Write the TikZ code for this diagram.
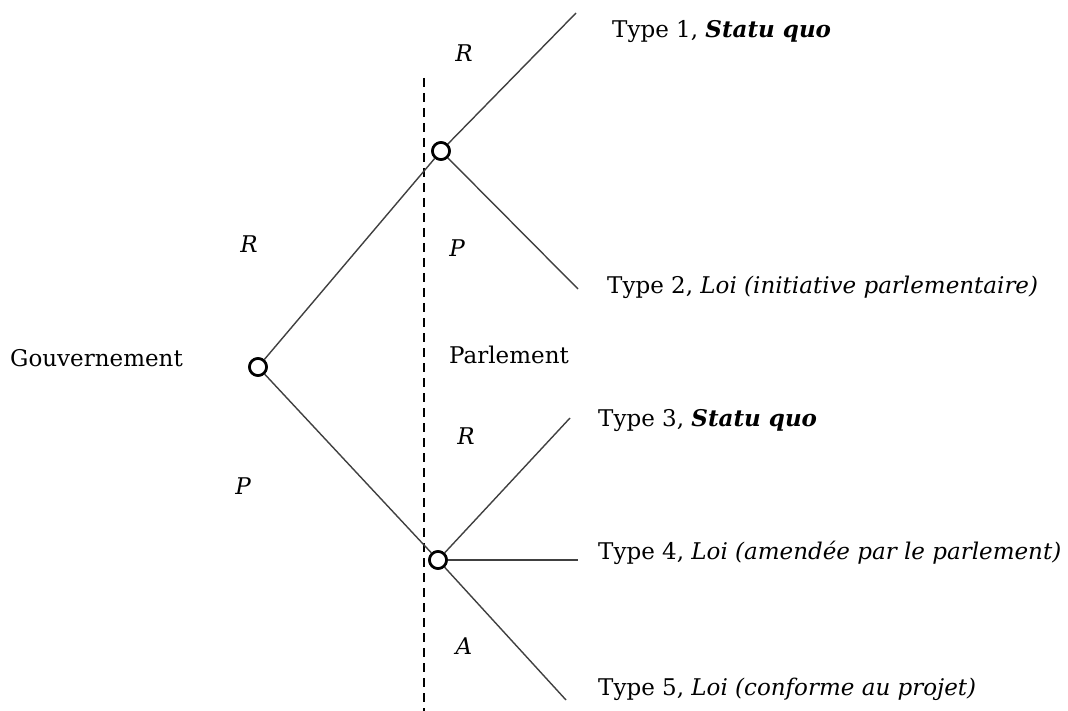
\documentclass[tikz,border=0pt]{standalone}
\usepackage{fontspec}
\setmainfont{DejaVu Serif}
\begin{document}
\begin{tikzpicture}[x=1pt,y=-1pt,
  every node/.style={font=\fontsize{23}{26}\selectfont, inner sep=0pt},
  dec/.style={circle, draw=black, fill=white, line width=2.6pt, minimum size=17pt},
  branch/.style={draw=black!75, line width=1.4pt},
  lbl/.style={anchor=center},
  txt/.style={anchor=base west}]
\useasboundingbox (0,0) rectangle (1068,711);
% dashed separator
\coordinate (dtop) at (424,78);
\coordinate (dbot) at (424,711);
\draw[line width=1.9pt, dash pattern=on 9pt off 6pt] (dtop) -- (dbot);
% decision nodes
\node[dec] (G) at (258,367) {};
\node[dec] (U) at (441,151) {};
\node[dec] (L) at (438,560) {};
% end points
\coordinate (e1) at (576,13);
\coordinate (e2) at (578,289);
\coordinate (e3) at (570,418);
\coordinate (e4) at (578,560);
\coordinate (e5) at (566,700);
% branches
\draw[branch] (G) -- (U);
\draw[branch] (G) -- (L);
\draw[branch] (U) -- (e1);
\draw[branch] (U) -- (e2);
\draw[branch] (L) -- (e3);
\draw[branch] (L) -- (e4);
\draw[branch] (L) -- (e5);
% redraw nodes on top
\node[dec] at (G) {};
\node[dec] at (U) {};
\node[dec] at (L) {};
% branch labels
\node[lbl] (lR1) at (464,53) {\itshape R};
\node[lbl] (lR0) at (249,244) {\itshape R};
\node[lbl] (lP1) at (457,248) {\itshape P};
\node[lbl] (lP0) at (243,486) {\itshape P};
\node[lbl] (lR2) at (466,436) {\itshape R};
\node[lbl] (lA) at (464,646) {\itshape A};
% player labels
\node[txt] (gov) at (10,366) {Gouvernement};
\node[txt] (parl) at (449,363) {Parlement};
% outcomes
\node[txt] (t1) at (612,38) {Type 1, \textbf{\textit{Statu quo}}};
\node[txt] (t2) at (607,294) {Type 2, \textit{Loi (initiative parlementaire)}};
\node[txt] (t3) at (598,426) {Type 3, \textbf{\textit{Statu quo}}};
\node[txt] (t4) at (598,559) {Type 4, \textit{Loi (amendée par le parlement)}};
\node[txt] (t5) at (598,695) {Type 5, \textit{Loi (conforme au projet)}};
\end{tikzpicture}
\end{document}
